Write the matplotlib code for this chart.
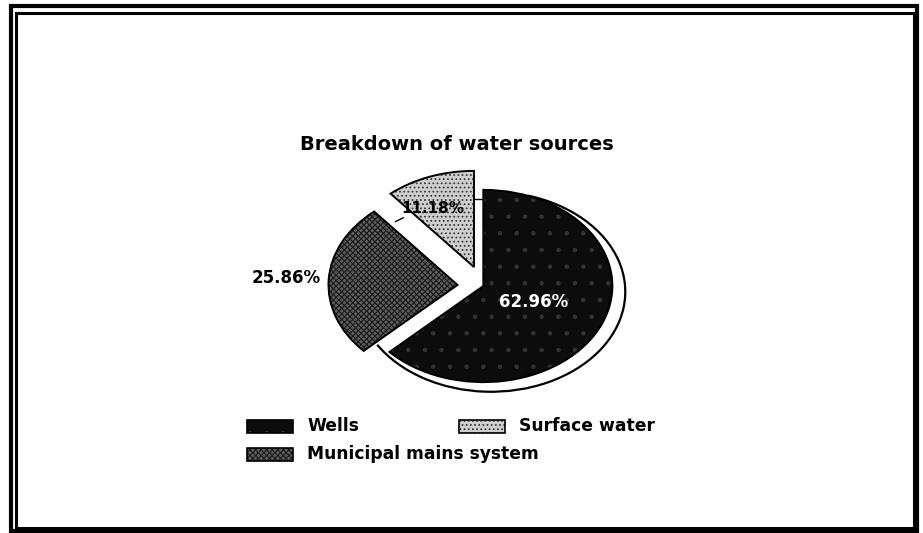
import matplotlib

matplotlib.use("Agg")
import matplotlib.pyplot as plt
from matplotlib.patches import Arc, Rectangle, Wedge

plt.rcParams["hatch.linewidth"] = 0.8

# chart data
labels = ["Wells", "Municipal mains system", "Surface water"]
shares = [62.96, 25.86, 11.18]
pct_text = ["62.96%", "25.86%", "11.18%"]
explode = [0.0, 0.2, 0.21]

FONT = "DejaVu Sans"
face_colors = ["#0c0c0c", "#5e5e5e", "#cfcfcf"]
hatches = [".", "xxxxxx", "...."]
hatch_colors = ["#333333", "#1a1a1a", "#3a3a3a"]

W, H = 923, 533
fig = plt.figure(figsize=(W / 100, H / 100), dpi=100)

# double frame round the whole picture
for x0, y0, x1, y1, lw in [(11, 6, 917, 531, 3.0), (16, 13, 914, 528, 2.2)]:
    fig.patches.append(
        Rectangle((x0 / W, 1 - y1 / H), (x1 - x0) / W, (y1 - y0) / H,
                  transform=fig.transFigure, fill=False, edgecolor="black", linewidth=lw)
    )

# pie axes: x unit = 129 px, y unit = 96 px, so the pie is a flat ellipse
ax = fig.add_axes([251 / W, 1 - 411 / H, 413 / W, 250 / H])
ax.axis("off")

# depth rim behind the Wells slice
ax.add_patch(Arc((0.06, -0.06), 2.08, 2.08, theta1=-148, theta2=74,
                 color="black", linewidth=1.6, zorder=0))

wedges, _ = ax.pie(shares, startangle=90, counterclock=False, explode=explode,
                   colors=face_colors, wedgeprops=dict(linewidth=0))
ax.set_aspect("auto")
ax.set_xlim(-1.8, 1.4)
ax.set_ylim(-1.3, 1.3)
for w, hc, h in zip(wedges, hatch_colors, hatches):
    w.set_hatch(h)
    w.set_edgecolor(hc)
    w.set_zorder(2)
    # second copy for the black outline
    ax.add_patch(Wedge(w.center, w.r, w.theta1, w.theta2, fill=False,
                       edgecolor="black", linewidth=1.4, zorder=3))

# slice labels
ax.text(0.39, -0.17, pct_text[0], color="white", fontsize=12, fontweight="bold",
        family=FONT, ha="center", va="center", zorder=4)
ax.text(-1.53, 0.08, pct_text[1], color="black", fontsize=12, fontweight="bold",
        family=FONT, ha="center", va="center", zorder=4)
ax.text(-0.39, 0.81, pct_text[2], color="black", fontsize=11, fontweight="bold",
        family=FONT, ha="center", va="center", zorder=4)
ax.plot([-0.13, 0.0], [0.91, 0.91], color="black", linewidth=1.0, zorder=1)
ax.plot([-0.68, -0.62], [0.67, 0.71], color="black", linewidth=1.0, zorder=1)

fig.text(457 / W, 1 - 145 / H, "Breakdown of water sources", fontsize=14,
         fontweight="bold", family=FONT, ha="center", va="center")

# legend drawn by hand: (left px, centre px, slice index)
legend_items = [
    (247, 426, 0),
    (459, 426, 2),
    (247, 454, 1),
]
for lx, ly, i in legend_items:
    y0 = 1 - (ly + 7) / H
    fig.patches.append(
        Rectangle((lx / W, y0), 46 / W, 13 / H, transform=fig.transFigure,
                  facecolor=face_colors[i], edgecolor=hatch_colors[i], hatch=hatches[i],
                  linewidth=0)
    )
    fig.patches.append(
        Rectangle((lx / W, y0), 46 / W, 13 / H, transform=fig.transFigure,
                  fill=False, edgecolor="black", linewidth=1.2)
    )
    fig.text((lx + 60) / W, 1 - ly / H, labels[i], fontsize=12.3, fontweight="bold",
             family=FONT, ha="left", va="center")

fig.savefig("out.png", dpi=100)
